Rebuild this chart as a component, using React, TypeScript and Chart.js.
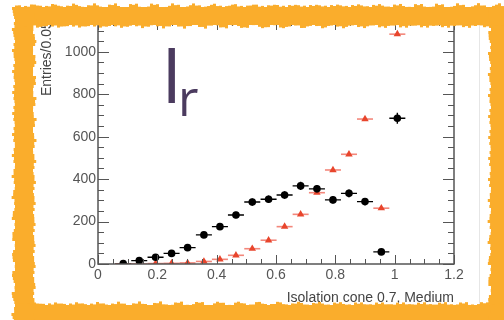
import React, { useEffect, useRef } from 'react';
import { Chart, registerables } from 'chart.js';

Chart.register(...registerables);

// ---- data ----
const binCenters = [0.085, 0.139, 0.194, 0.248, 0.302, 0.357, 0.411, 0.465, 0.52, 0.575, 0.629, 0.683, 0.738, 0.792, 0.846, 0.9, 0.955, 1.009];
const binHalfWidth = 0.027;
const dataValues = [2, 16, 32, 50, 77, 137, 176, 231, 292, 305, 325, 368, 354, 302, 333, 294, 57, 687];
const mcValues = [0, 0, 2, 3, 5, 12, 22, 41, 72, 112, 176, 234, 336, 443, 517, 683, 263, 1083];
const xTicks = [0, 0.2, 0.4, 0.6, 0.8, 1, 1.2];
const yTicks = [0, 200, 400, 600, 800, 1000];
const xMinorStep = 0.05;
const yMinorStep = 50;
const xTitle = 'Isolation cone 0.7, Medium';
const yTitle = 'Entries/0.05';

const AXIS = '#555555';
const ORANGE = '#FAAD2C';

const jag = (i: number, k: number) =>
  Math.sin(i * 0.93 + k) * 1.3 + Math.sin(i * 2.71 + k * 2) * 0.9 + Math.sin(i * 5.3 + k * 3) * 0.6;

const errorBars = {
  id: 'errorBars',
  beforeDatasetsDraw(chart: any) {
    const { ctx, chartArea, scales } = chart;
    const xs = scales.x, ys = scales.y;
    ctx.save();
    ctx.beginPath();
    ctx.rect(chartArea.left, chartArea.top, chartArea.right - chartArea.left, chartArea.bottom - chartArea.top);
    ctx.clip();
    chart.data.datasets.forEach((ds: any) => {
      ctx.strokeStyle = ds.errorColor;
      ctx.lineWidth = ds.errorWidth;
      ds.data.forEach((p: any) => {
        const px = xs.getPixelForValue(p.x);
        const py = ys.getPixelForValue(p.y);
        ctx.beginPath();
        ctx.moveTo(xs.getPixelForValue(p.x - p.xerr), py);
        ctx.lineTo(xs.getPixelForValue(p.x + p.xerr), py);
        if (p.yerr > 0) {
          ctx.moveTo(px, ys.getPixelForValue(p.y - p.yerr));
          ctx.lineTo(px, ys.getPixelForValue(p.y + p.yerr));
        }
        ctx.stroke();
      });
    });
    ctx.restore();
  },
};

const decorations = {
  id: 'decorations',
  afterDraw(chart: any) {
    const { ctx, chartArea, scales } = chart;
    const xs = scales.x, ys = scales.y;
    const { left, right, top, bottom } = chartArea;
    ctx.save();

    // axis box
    ctx.strokeStyle = AXIS;
    ctx.lineWidth = 1.5;
    ctx.strokeRect(left, top, right - left, bottom - top);

    // inward ticks
    ctx.lineWidth = 1;
    ctx.beginPath();
    for (let v = 0; v <= 1.2 + 1e-9; v += xMinorStep) {
      const major = xTicks.some((t) => Math.abs(t - v) < 1e-6);
      const len = major ? 9 : 5;
      const px = Math.round(xs.getPixelForValue(v)) + 0.5;
      ctx.moveTo(px, bottom);
      ctx.lineTo(px, bottom - len);
      ctx.moveTo(px, top);
      ctx.lineTo(px, top + len);
    }
    for (let v = 0; v <= ys.max + 1e-9; v += yMinorStep) {
      const major = yTicks.includes(v);
      const len = major ? 11 : 6;
      const py = Math.round(ys.getPixelForValue(v)) + 0.5;
      ctx.moveTo(left, py);
      ctx.lineTo(left + len, py);
      ctx.moveTo(right, py);
      ctx.lineTo(right - len, py);
    }
    ctx.stroke();

    // axis titles
    ctx.fillStyle = '#444';
    ctx.font = '14px "Liberation Sans", Arial, sans-serif';
    ctx.textAlign = 'right';
    ctx.textBaseline = 'alphabetic';
    ctx.fillText(xTitle, right, 302);

    ctx.save();
    ctx.translate(51, 96);
    ctx.rotate(-Math.PI / 2);
    ctx.textAlign = 'left';
    ctx.font = '14px "Liberation Sans", Arial, sans-serif';
    ctx.fillText(yTitle, 0, 0);
    ctx.restore();

    // big I_r label
    ctx.fillStyle = '#4b3b5f';
    ctx.textAlign = 'left';
    ctx.font = '77px "Open Sans", sans-serif';
    ctx.fillText('I', 161, 102.5);
    ctx.font = '50px "Open Sans", sans-serif';
    ctx.fillText('r', 178, 116);

    // faint canvas edge line
    ctx.strokeStyle = '#e6e6e6';
    ctx.lineWidth = 1;
    ctx.beginPath();
    ctx.moveTo(479.5, 24);
    ctx.lineTo(479.5, 305);
    ctx.stroke();

    // hand-drawn orange frame
    ctx.fillStyle = ORANGE;
    const oL = 15, oT = 7, iL = 33, iT = 25, iR = 491, iB = 305;
    ctx.fillRect(oL, oT, 504 - oL, iT - oT);
    ctx.fillRect(oL, oT, iL - oL, 320 - oT);
    ctx.fillRect(oL, iB, 504 - oL, 320 - iB);
    ctx.fillRect(iR, oT, 504 - iR, 320 - oT);
    let i = 0;
    for (let x = oL; x < 504; x += 3, i++) {
      const d1 = 1.2 + jag(i, 0.3);
      ctx.fillRect(x, iT, 3, Math.max(0, d1));
      const d2 = 1.2 + jag(i, 1.7);
      ctx.fillRect(x, iB - Math.max(0, d2), 3, Math.max(0, d2));
      const d3 = 1.2 + jag(i, 2.9);
      ctx.fillRect(x, oT - Math.max(0, d3), 3, Math.max(0, d3));
    }
    i = 0;
    for (let y = oT; y < 320; y += 3, i++) {
      const d1 = 1.2 + jag(i, 4.1);
      ctx.fillRect(iL, y, Math.max(0, d1), 3);
      const d2 = 1.2 + jag(i, 5.3);
      ctx.fillRect(iR - Math.max(0, d2), y, Math.max(0, d2), 3);
      const d3 = 1.2 + jag(i, 6.7);
      ctx.fillRect(oL - Math.max(0, d3), y, Math.max(0, d3), 3);
    }
    ctx.restore();
  },
};

export default function App() {
  const ref = useRef<HTMLCanvasElement | null>(null);
  useEffect(() => {
    if (!ref.current) return;
    const dataPts = binCenters.map((c, i) => ({ x: c, y: dataValues[i], xerr: binHalfWidth, yerr: Math.sqrt(dataValues[i]) }));
    const mcPts = binCenters.map((c, i) => ({ x: c, y: mcValues[i], xerr: binHalfWidth, yerr: 0 }));
    const tickFont = { family: '"Liberation Sans", Arial, sans-serif', size: 14 };
    const chart = new Chart(ref.current, {
      type: 'scatter',
      data: {
        datasets: [
          {
            label: 'data',
            data: dataPts,
            pointStyle: 'circle',
            pointRadius: 3.8,
            backgroundColor: '#000',
            borderColor: '#000',
            borderWidth: 0,
            errorColor: '#000',
            errorWidth: 1.4,
          } as any,
          {
            label: 'mc',
            data: mcPts,
            pointStyle: 'triangle',
            pointRadius: 4.3,
            backgroundColor: '#e8452c',
            borderColor: '#e8452c',
            borderWidth: 0,
            errorColor: 'rgba(240,105,90,0.8)',
            errorWidth: 1.6,
          } as any,
        ],
      },
      options: {
        animation: false,
        responsive: false,
        devicePixelRatio: 1,
        layout: { padding: { top: 21, right: 50, left: 0, bottom: 0 } },
        plugins: { legend: { display: false }, tooltip: { enabled: false } },
        scales: {
          x: {
            type: 'linear',
            min: 0,
            max: 1.2,
            afterBuildTicks: (s: any) => { s.ticks = xTicks.map((v) => ({ value: v })); },
            afterFit: (s: any) => { s.height = 56; },
            grid: { display: false, drawTicks: false },
            border: { display: false },
            ticks: { color: AXIS, font: tickFont, padding: 3, maxRotation: 0, autoSkip: false, callback: (v: any) => String(v) },
          },
          y: {
            type: 'linear',
            min: 0,
            max: 1145,
            afterBuildTicks: (s: any) => { s.ticks = yTicks.map((v) => ({ value: v })); },
            afterFit: (s: any) => { s.width = 98; },
            grid: { display: false, drawTicks: false },
            border: { display: false },
            ticks: { color: AXIS, font: tickFont, padding: 2, autoSkip: false, callback: (v: any) => String(v) },
          },
        },
      },
      plugins: [errorBars, decorations],
    });
    return () => chart.destroy();
  }, []);
  return (
    <div style={{ position: 'fixed', left: 0, top: 0, width: 504, height: 320, background: '#fff' }}>
      <canvas ref={ref} width={504} height={320} style={{ display: 'block' }} />
    </div>
  );
}
